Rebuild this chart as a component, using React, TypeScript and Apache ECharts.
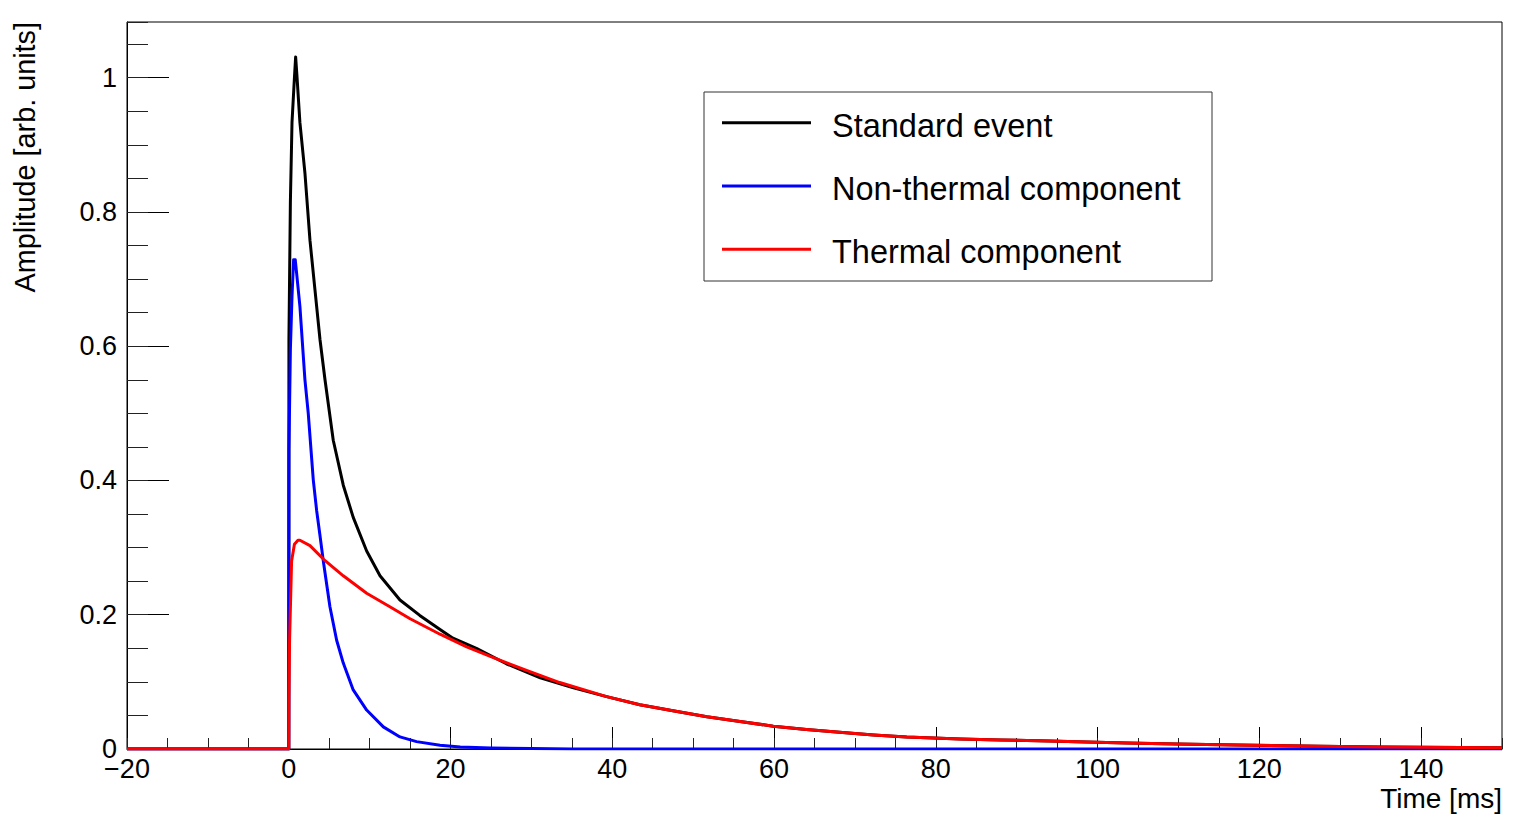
import React, { useEffect, useRef } from "react";
import * as echarts from "echarts";

// ---- data ----
const standardTime = [-20, 0, 0.02, 0.2, 0.4, 0.7, 0.85, 1.0, 1.38, 2.0, 2.62, 3.24, 3.86, 4.48, 5.5, 6.74, 7.97, 9.63, 11.28, 13.75, 16.2, 18.7, 20.3, 23.2, 26.9, 31.1, 35.2, 39.3, 43.4, 47.5, 51.7, 55.8, 59.9, 64, 68.1, 72.3, 76.4, 83, 88, 94, 98.6, 103.6, 109.8, 117.2, 127.5, 135, 144.8, 150];
const standardAmp = [0, 0, 0.61, 0.815, 0.933, 1.0, 1.031, 1.005, 0.933, 0.858, 0.758, 0.684, 0.61, 0.55, 0.46, 0.393, 0.345, 0.295, 0.258, 0.222, 0.199, 0.178, 0.165, 0.15, 0.127, 0.106, 0.091, 0.078, 0.066, 0.057, 0.048, 0.041, 0.034, 0.029, 0.025, 0.021, 0.018, 0.015, 0.0135, 0.012, 0.0105, 0.009, 0.0075, 0.006, 0.004, 0.003, 0.0022, 0.002];

const nonThermalTime = [-20, 0, 0.02, 0.2, 0.4, 0.6, 0.8, 0.97, 1.38, 1.8, 2.0, 2.41, 3.03, 3.45, 3.86, 4.27, 5.09, 5.92, 6.74, 7.97, 9.63, 11.69, 13.75, 15.8, 18.7, 21.2, 25, 30, 35, 150];
const nonThermalAmp = [0, 0, 0.446, 0.595, 0.674, 0.729, 0.729, 0.709, 0.659, 0.585, 0.55, 0.5, 0.401, 0.355, 0.318, 0.28, 0.212, 0.162, 0.128, 0.088, 0.058, 0.033, 0.018, 0.011, 0.0057, 0.003, 0.0015, 0.0007, 0, 0];

const thermalTime = [-20, 0, 0.02, 0.1, 0.35, 0.7, 1.14, 1.38, 2.62, 4.27, 6.74, 9.63, 12.5, 15.0, 18.7, 22.0, 25.3, 29.4, 33.5, 39.3, 43.4, 47.5, 51.7, 55.8, 59.9, 64, 68.1, 72.3, 76.4, 83, 88, 94, 98.6, 103.6, 109.8, 117.2, 127.5, 135, 144.8, 150];
const thermalAmp = [0, 0, 0.073, 0.162, 0.28, 0.305, 0.311, 0.311, 0.303, 0.283, 0.258, 0.232, 0.212, 0.194, 0.171, 0.152, 0.136, 0.117, 0.099, 0.078, 0.066, 0.057, 0.048, 0.041, 0.034, 0.029, 0.025, 0.021, 0.018, 0.015, 0.0135, 0.012, 0.0105, 0.009, 0.0075, 0.006, 0.004, 0.003, 0.0022, 0.002];

const seriesNames = ["Standard event", "Non-thermal component", "Thermal component"];
const seriesColors = ["#000000", "#0000ff", "#ff0000"];

const xTitle = "Time [ms]";
const yTitle = "Amplitude [arb. units]";

const FONT = "'Liberation Sans', Arial, Helvetica, sans-serif";

function zip(t: number[], v: number[]) {
  return t.map((x, i) => [x, v[i]]);
}

export default function App() {
  const ref = useRef<HTMLDivElement>(null);
  useEffect(() => {
    if (!ref.current) return;
    const chart = echarts.init(ref.current, undefined, { renderer: "svg" });
    const datasets = [
      zip(standardTime, standardAmp),
      zip(nonThermalTime, nonThermalAmp),
      zip(thermalTime, thermalAmp),
    ];
    const legendLeft = 704;
    const legendTop = 92;
    const rowY = [122.7, 186, 249.3];
    const graphicEls: any[] = [
      {
        type: "rect",
        shape: { x: legendLeft, y: legendTop, width: 508, height: 189 },
        style: { fill: "#fff", stroke: "#333", lineWidth: 1 },
        z: 100,
      },
    ];
    seriesNames.forEach((name, i) => {
      graphicEls.push({
        type: "line",
        shape: { x1: 722, y1: rowY[i], x2: 811, y2: rowY[i] },
        style: { stroke: seriesColors[i], lineWidth: 3 },
        z: 101,
      });
      graphicEls.push({
        type: "text",
        x: 832,
        y: rowY[i] + 3,
        style: {
          text: name,
          fill: "#000",
          font: `32.5px ${FONT}`,
          verticalAlign: "middle",
          align: "left",
        },
        z: 101,
      });
    });
    graphicEls.push({
      type: "text",
      x: 1502,
      y: 798,
      style: { text: xTitle, fill: "#000", font: `28px ${FONT}`, align: "right", verticalAlign: "middle" },
    });
    graphicEls.push({
      type: "text",
      x: 25,
      y: 22,
      rotation: Math.PI / 2,
      style: { text: yTitle, fill: "#000", font: `28.8px ${FONT}`, align: "right", verticalAlign: "middle" },
    });

    const labelStyle = { color: "#000", fontSize: 27, fontFamily: FONT };
    chart.setOption({
      animation: false,
      backgroundColor: "#fff",
      grid: {
        left: 127,
        right: 16,
        top: 22,
        bottom: 77,
        show: true,
        borderColor: "#000",
        borderWidth: 1,
        backgroundColor: "transparent",
      },
      xAxis: [
        {
          type: "value",
          min: -20,
          max: 150,
          interval: 20,
          position: "bottom",
          axisLine: { show: true, onZero: false, lineStyle: { color: "#000", width: 1 } },
          axisTick: { show: true, inside: true, length: 22, lineStyle: { color: "#000", width: 1 } },
          axisLabel: {
            ...labelStyle,
            margin: 6,
            showMaxLabel: false,
            formatter: (v: number) => (v < 0 ? "\u2212" + Math.abs(v) : String(v)),
          },
          splitLine: { show: false },
        },
        {
          type: "value",
          min: -20,
          max: 150,
          interval: 5,
          position: "bottom",
          axisLine: { show: false, onZero: false },
          axisTick: { show: true, inside: true, length: 11, lineStyle: { color: "#222", width: 1 } },
          axisLabel: { show: false },
          splitLine: { show: false },
        },
      ],
      yAxis: [
        {
          type: "value",
          min: 0,
          max: 1.083,
          interval: 0.2,
          position: "left",
          axisLine: { show: true, onZero: false, lineStyle: { color: "#000", width: 1 } },
          axisTick: { show: true, inside: true, length: 42, lineStyle: { color: "#000", width: 1 } },
          axisLabel: { ...labelStyle, margin: 10, showMaxLabel: false },
          splitLine: { show: false },
        },
        {
          type: "value",
          min: 0,
          max: 1.083,
          interval: 0.05,
          position: "left",
          offset: 0,
          axisLine: { show: false, onZero: false },
          axisTick: { show: true, inside: true, length: 21, lineStyle: { color: "#222", width: 1 } },
          axisLabel: { show: false },
          splitLine: { show: false },
        },
      ],
      series: datasets.map((d, i) => ({
        name: seriesNames[i],
        type: "line",
        xAxisIndex: 0,
        yAxisIndex: 0,
        data: d,
        symbol: "none",
        smooth: false,
        lineStyle: { color: seriesColors[i], width: 3, join: "round" },
        itemStyle: { color: seriesColors[i] },
        z: 2 + i,
        clip: true,
      })),
      graphic: graphicEls,
    });
    return () => chart.dispose();
  }, []);
  return (
    <div
      ref={ref}
      style={{ position: "absolute", left: 0, top: 0, width: 1518, height: 826, background: "#fff" }}
    />
  );
}
